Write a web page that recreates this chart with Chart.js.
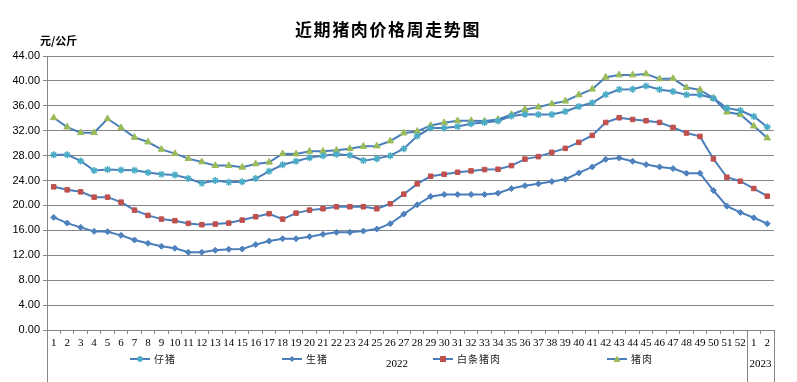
<!DOCTYPE html>
<html>
<head>
<meta charset="utf-8">
<script src="https://cdn.jsdelivr.net/npm/chart.js@4"></script>
<style>
  html, body { margin: 0; padding: 0; background: #fff; }
  #wrap { width: 797px; height: 382px; }
</style>
</head>
<body>
<div id="wrap"><canvas id="priceChart" width="797" height="382"></canvas></div>
<script>
// week numbers: 1-52 of 2022, then 1-2 of 2023
const weeks = ['1','2','3','4','5','6','7','8','9','10','11','12','13','14','15','16','17','18','19','20',
  '21','22','23','24','25','26','27','28','29','30','31','32','33','34','35','36','37','38','39','40',
  '41','42','43','44','45','46','47','48','49','50','51','52','1','2'];
const yTicks = [0, 4, 8, 12, 16, 20, 24, 28, 32, 36, 40, 44];

const piglet = [28.16, 28.16, 27.15, 25.6, 25.76, 25.71, 25.65, 25.28, 25.01, 24.91, 24.32, 23.57, 24.0, 23.73,
  23.79, 24.32, 25.49, 26.53, 27.09, 27.68, 28.0, 28.21, 28.05, 27.2, 27.52, 28.0, 29.12, 31.15, 32.43, 32.43,
  32.69, 33.12, 33.33, 33.55, 34.35, 34.66, 34.61, 34.61, 35.09, 35.89, 36.48, 37.81, 38.61, 38.67, 39.2, 38.61,
  38.29, 37.76, 37.76, 37.23, 35.63, 35.25, 34.29, 32.59];
const livePig = [18.08, 17.17, 16.48, 15.84, 15.79, 15.2, 14.45, 13.92, 13.44, 13.12, 12.48, 12.48, 12.8, 12.96,
  13.01, 13.71, 14.29, 14.67, 14.67, 14.99, 15.36, 15.68, 15.68, 15.89, 16.21, 17.07, 18.61, 20.11, 21.44, 21.76,
  21.76, 21.76, 21.76, 21.97, 22.72, 23.18, 23.47, 23.84, 24.21, 25.23, 26.19, 27.41, 27.63, 27.09, 26.56, 26.19,
  25.92, 25.17, 25.17, 22.4, 19.89, 18.88, 18.03, 17.07];
const whitePork = [22.99, 22.51, 22.19, 21.33, 21.33, 20.53, 19.25, 18.4, 17.81, 17.55, 17.12, 16.91, 17.01, 17.17,
  17.65, 18.19, 18.67, 17.81, 18.77, 19.25, 19.47, 19.79, 19.79, 19.79, 19.47, 20.27, 21.81, 23.47, 24.69, 25.01,
  25.33, 25.55, 25.76, 25.81, 26.4, 27.44, 27.84, 28.53, 29.17, 30.13, 31.25, 33.33, 34.08, 33.81, 33.6, 33.33,
  32.53, 31.63, 31.09, 27.47, 24.53, 23.89, 22.72, 21.49];
const pork = [34.08, 32.59, 31.68, 31.68, 33.92, 32.48, 30.93, 30.19, 29.01, 28.32, 27.52, 26.99, 26.4, 26.4,
  26.13, 26.67, 26.93, 28.3, 28.27, 28.69, 28.69, 28.85, 29.12, 29.49, 29.55, 30.35, 31.63, 31.89, 32.85, 33.28,
  33.6, 33.6, 33.55, 33.81, 34.61, 35.41, 35.79, 36.32, 36.75, 37.76, 38.67, 40.59, 40.96, 40.96, 41.12, 40.32,
  40.37, 38.93, 38.56, 37.23, 34.99, 34.61, 32.75, 30.83];

const LINE = '#4A7EBB';
const GRID = '#868686';
const CJK = '"Noto Sans CJK SC", sans-serif';

function drawMarker(ctx, style, color, x, y) {
  ctx.save();
  ctx.fillStyle = color;
  ctx.strokeStyle = color;
  ctx.beginPath();
  if (style === 'star') {
    ctx.lineWidth = 1.5;
    const r = 3;
    ctx.moveTo(x - r, y); ctx.lineTo(x + r, y);
    ctx.moveTo(x, y - r); ctx.lineTo(x, y + r);
    ctx.moveTo(x - r * 0.7, y - r * 0.7); ctx.lineTo(x + r * 0.7, y + r * 0.7);
    ctx.moveTo(x - r * 0.7, y + r * 0.7); ctx.lineTo(x + r * 0.7, y - r * 0.7);
    ctx.stroke();
  } else if (style === 'rectRot') {
    ctx.moveTo(x, y - 3); ctx.lineTo(x + 3, y); ctx.lineTo(x, y + 3); ctx.lineTo(x - 3, y);
    ctx.closePath(); ctx.fill();
  } else if (style === 'rect') {
    ctx.fillRect(x - 3, y - 3, 6, 6);
  } else {
    ctx.moveTo(x, y - 3.5); ctx.lineTo(x + 3.5, y + 3); ctx.lineTo(x - 3.5, y + 3);
    ctx.closePath(); ctx.fill();
  }
  ctx.restore();
}

function spacedText(ctx, text, x, y, step) {
  for (let i = 0; i < text.length; i++) ctx.fillText(text[i], x + i * step, y);
}

const decorations = {
  id: 'decorations',
  afterDraw(chart) {
    const ctx = chart.ctx;
    const area = chart.chartArea;
    const xs = chart.scales.x;
    ctx.save();

    // title and unit
    ctx.fillStyle = '#000';
    ctx.textBaseline = 'middle';
    ctx.textAlign = 'left';
    ctx.font = 'bold 17px ' + CJK;
    spacedText(ctx, '近期猪肉价格周走势图', 295, 30, 18.6);
    ctx.font = 'bold 11px ' + CJK;
    ctx.fillText('元/公斤', 40, 41);

    // year separators
    const sep = (xs.getPixelForValue(51) + xs.getPixelForValue(52)) / 2;
    ctx.strokeStyle = GRID;
    ctx.lineWidth = 1;
    ctx.beginPath();
    [area.left, sep, area.right].forEach(px => {
      const x = Math.round(px) + 0.5;
      ctx.moveTo(x, area.bottom);
      ctx.lineTo(x, 382);
    });
    ctx.stroke();

    // year labels
    ctx.font = '11px "Liberation Serif", serif';
    ctx.textAlign = 'center';
    ctx.fillText('2022', (area.left + sep) / 2, 364);
    ctx.fillText('2023', (sep + area.right) / 2, 364);

    // legend
    const items = [
      { label: '仔猪', x: 130, style: 'star', color: '#4BACC6' },
      { label: '生猪', x: 282, style: 'rectRot', color: '#4F81BD' },
      { label: '白条猪肉', x: 433, style: 'rect', color: '#C0504D' },
      { label: '猪肉', x: 607, style: 'triangle', color: '#9BBB59' }
    ];
    const ly = 359;
    ctx.font = '10px ' + CJK;
    ctx.textAlign = 'left';
    items.forEach(it => {
      ctx.strokeStyle = LINE;
      ctx.lineWidth = 2;
      ctx.beginPath();
      ctx.moveTo(it.x, ly);
      ctx.lineTo(it.x + 20, ly);
      ctx.stroke();
      drawMarker(ctx, it.style, it.color, it.x + 10, ly);
      ctx.fillStyle = '#222';
      spacedText(ctx, it.label, it.x + 24, ly, 11);
    });
    ctx.restore();
  }
};

function series(label, data, style, color, radius) {
  return {
    label: label,
    data: data,
    borderColor: LINE,
    borderWidth: 2,
    pointStyle: style,
    pointRadius: radius,
    pointBackgroundColor: color,
    pointBorderColor: color,
    pointBorderWidth: style === 'star' ? 1.5 : 1,
    tension: 0
  };
}

new Chart(document.getElementById('priceChart').getContext('2d'), {
  type: 'line',
  data: {
    labels: weeks,
    datasets: [
      series('仔猪', piglet, 'star', '#4BACC6', 3.5),
      series('生猪', livePig, 'rectRot', '#4F81BD', 3),
      series('白条猪肉', whitePork, 'rect', '#C0504D', 3.2),
      series('猪肉', pork, 'triangle', '#9BBB59', 3.8)
    ]
  },
  options: {
    responsive: false,
    animation: false,
    layout: { padding: { left: 0, right: 23, top: 56, bottom: 0 } },
    plugins: {
      legend: { display: false },
      title: { display: false },
      tooltip: { enabled: false }
    },
    scales: {
      x: {
        offset: true,
        afterFit: s => { s.height = 52; },
        grid: { display: true, drawOnChartArea: false, offset: true, color: GRID, tickLength: 4 },
        border: { color: GRID },
        ticks: {
          autoSkip: false, maxRotation: 0, padding: 3, color: '#000',
          font: { family: '"Liberation Serif", serif', size: 11 }
        }
      },
      y: {
        min: 0,
        max: 44,
        afterFit: s => { s.width = 47; },
        afterBuildTicks: s => { s.ticks = yTicks.map(v => ({ value: v })); },
        grid: { color: GRID, tickLength: 4 },
        border: { color: GRID },
        ticks: {
          padding: 3, color: '#000',
          font: { family: '"Liberation Sans", sans-serif', size: 11 },
          callback: v => Number(v).toFixed(2)
        }
      }
    }
  },
  plugins: [decorations]
});
</script>
</body>
</html>
